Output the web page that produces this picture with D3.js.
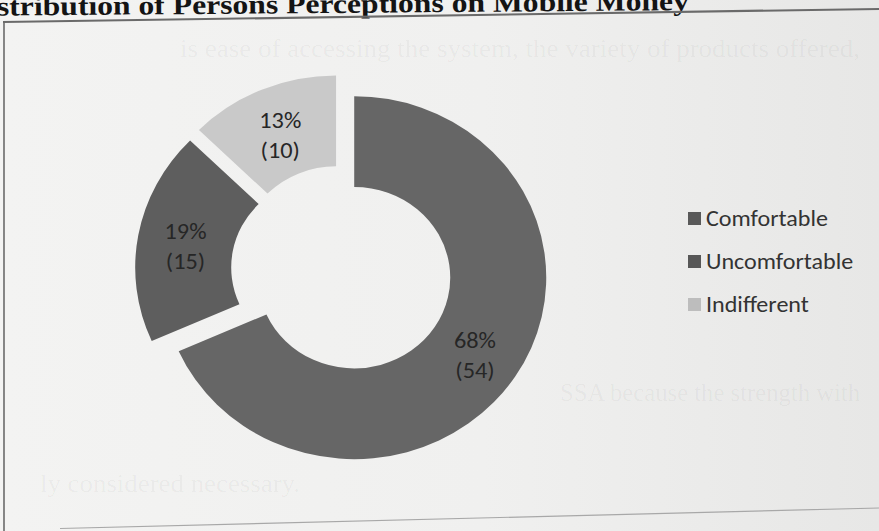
<!DOCTYPE html>
<html>
<head>
<meta charset="utf-8">
<script src="https://cdn.jsdelivr.net/npm/d3@7"></script>
<style>
  html, body { margin: 0; padding: 0; background: #efefed; }
  svg { display: block; }
</style>
</head>
<body>
<svg id="chart" width="879" height="531"></svg>
<script>
// Survey responses on comfort with mobile money
const categories = ["Comfortable", "Uncomfortable", "Indifferent"];
const counts = [54, 15, 10];
const sliceColors = ["#666666", "#5e5e5e", "#c9c9c9"];
const legendColors = ["#595959", "#575757", "#bdbdbd"];

const titleText = "stribution of Persons Perceptions on Mobile Money";

// Faint print from the facing page, showing through the paper
const backLines = [
  { text: "is ease of accessing the system, the variety of products offered,", x: 180, y: 57, w: 680 },
  { text: "SSA because the strength with", x: 560, y: 401, w: 300 },
  { text: "ly considered necessary.", x: 40, y: 492, w: 260 }
];

const svg = d3.select("#chart");
const W = 879, H = 531;

// paper tone
const defs = svg.append("defs");
const grad = defs.append("linearGradient").attr("id", "paper")
  .attr("x1", "0").attr("x2", "1").attr("y1", "0").attr("y2", "0");
grad.append("stop").attr("offset", "0").attr("stop-color", "#f3f3f2");
grad.append("stop").attr("offset", "0.55").attr("stop-color", "#f0f0ef");
grad.append("stop").attr("offset", "1").attr("stop-color", "#e7e7e6");
svg.append("rect").attr("width", W).attr("height", H).attr("fill", "url(#paper)");

// show-through text
svg.append("g")
  .selectAll("text")
  .data(backLines)
  .join("text")
  .attr("x", d => d.x)
  .attr("y", d => d.y)
  .attr("textLength", d => d.w)
  .attr("lengthAdjust", "spacingAndGlyphs")
  .attr("font-family", "'Liberation Serif', serif")
  .attr("font-size", 26)
  .attr("fill", "#000")
  .attr("fill-opacity", 0.045)
  .text(d => d.text);

// heading (cut off at the top edge)
svg.append("text")
  .attr("x", -3)
  .attr("y", 15.5)
  .attr("transform", "rotate(-0.45 0 15.5)")
  .attr("textLength", 692)
  .attr("lengthAdjust", "spacingAndGlyphs")
  .attr("font-family", "'Liberation Serif', 'Times New Roman', serif")
  .attr("font-weight", "bold")
  .attr("font-size", 27)
  .attr("fill", "#141414")
  .text(titleText);

// chart frame
const frame = svg.append("g").attr("stroke", "#6a6a6a").attr("fill", "none");
frame.append("line").attr("x1", 3).attr("y1", 22).attr("x2", 879).attr("y2", 9).attr("stroke-width", 2.2);
frame.append("line").attr("x1", 4).attr("y1", 21).attr("x2", 4).attr("y2", 531).attr("stroke-width", 1.6);
frame.append("line").attr("x1", 60).attr("y1", 528.5).attr("x2", 879).attr("y2", 508).attr("stroke-width", 1.2).attr("stroke", "#a8a8a8");

// doughnut
const R = 181.5, r0 = R * 0.5, explode = 14;
const total = d3.sum(counts);
const data = categories.map((c, i) => ({ category: c, value: counts[i], color: sliceColors[i], key: legendColors[i] }));

const pie = d3.pie().sort(null).value(d => d.value).startAngle(0).endAngle(2 * Math.PI);
const arc = d3.arc().innerRadius(r0).outerRadius(R);
const arcs = pie(data);

const donut = svg.append("g").attr("transform", "translate(341.8,270) scale(1.058,1)");

const offset = d => {
  const mid = (d.startAngle + d.endAngle) / 2;
  return [Math.sin(mid) * explode, -Math.cos(mid) * explode];
};

const slices = donut.selectAll("g.slice")
  .data(arcs)
  .join("g")
  .attr("class", "slice")
  .attr("transform", d => { const o = offset(d); return `translate(${o[0]},${o[1]})`; });

slices.append("path")
  .attr("d", arc)
  .attr("fill", d => d.data.color);

const fmtPct = v => Math.round(v / total * 100) + "%";

const labels = slices.append("text")
  .attr("transform", d => { const c = arc.centroid(d); return `translate(${c[0]},${c[1]})`; })
  .attr("text-anchor", "middle")
  .attr("font-family", "Calibri, Carlito, Lato, 'Open Sans', sans-serif")
  .attr("font-size", 23)
  .attr("fill", "#262626");
labels.append("tspan").attr("x", 0).attr("y", -4).text(d => fmtPct(d.data.value));
labels.append("tspan").attr("x", 0).attr("y", 26).text(d => `(${d.data.value})`);

// legend
const legend = svg.append("g").attr("transform", "translate(688,218.5)");
const rows = legend.selectAll("g")
  .data(data)
  .join("g")
  .attr("transform", (d, i) => `translate(0,${i * 43})`);
rows.append("rect")
  .attr("x", 0).attr("y", -6.5).attr("width", 13).attr("height", 13)
  .attr("fill", d => d.key);
rows.append("text")
  .attr("transform", "translate(18,7.5) scale(1.07,1)")
  .attr("font-family", "Calibri, Carlito, Lato, 'Open Sans', sans-serif")
  .attr("font-size", 22.5)
  .attr("fill", "#333")
  .text(d => d.category);
</script>
</body>
</html>
